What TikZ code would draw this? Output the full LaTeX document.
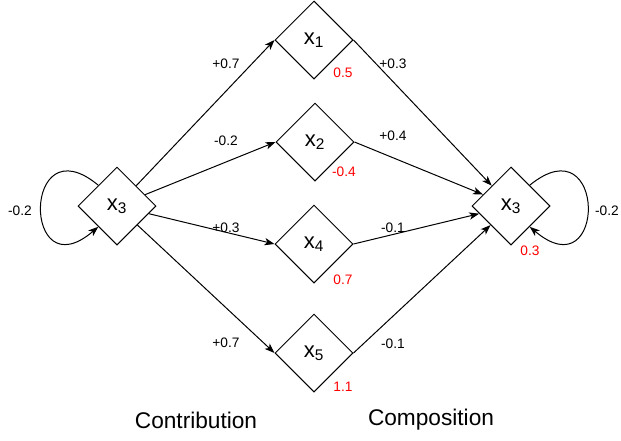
\documentclass[tikz,border=0pt]{standalone}
\usepackage{fontspec}
\setmainfont{Liberation Sans}
\usetikzlibrary{shapes.geometric,arrows.meta}
\newcommand{\pxUnit}[0]{0.75pt}

\begin{document}
\begin{tikzpicture}[x=\pxUnit, y=-\pxUnit]
  \tikzset{var/.style={diamond, draw, line width=0.75pt, inner sep=0pt,
      minimum width=58.5pt, minimum height=58.5pt,
      font=\fontsize{16.5}{18}\selectfont},
    weight/.style={font=\fontsize{10.3}{12}\selectfont},
    value/.style={weight, text=red},
    caption/.style={font=\fontsize{17}{20}\selectfont},
    link/.style={-{Stealth[length=7.5pt,width=5.5pt,inset=2pt]}, line width=0.75pt}}
  \useasboundingbox (0,0) rectangle (621,440);
  % variables
  \node[var] (src) at (117,206) {x\textsubscript{3}};
  \node[var] (x1) at (314,40) {x\textsubscript{1}};
  \node[var] (x2) at (315,142) {x\textsubscript{2}};
  \node[var] (x4) at (314,244) {x\textsubscript{4}};
  \node[var] (x5) at (314,353) {x\textsubscript{5}};
  \node[var] (dst) at (511,206) {x\textsubscript{3}};
  % contribution
  \draw[link] (src) -- (x1.west);
  \draw[link] (src) -- (x2.west);
  \draw[link] (src) -- (x4.west);
  \draw[link] (src) -- (x5.west);
  % composition
  \draw[link] (x1.east) -- (dst);
  \draw[link] (x2.east) -- (dst);
  \draw[link] (x4.east) -- (dst);
  \draw[link] (x5.east) -- (dst);
  % self loops
  \draw[link] (src.132) .. controls (22,122) and (22,292) .. (src.228);
  \draw[link] (dst.48) .. controls (607,122) and (607,292) .. (dst.312);
  % weights
  \node[weight] (w1) at (226,64) {+0.7};
  \node[weight] (w2) at (226,141) {-0.2};
  \node[weight] (w4) at (226,228) {+0.3};
  \node[weight] (w5) at (226,343) {+0.7};
  \node[weight] (v1) at (393,64) {+0.3};
  \node[weight] (v2) at (393,136) {+0.4};
  \node[weight] (v4) at (393,228) {-0.1};
  \node[weight] (v5) at (393,344) {-0.1};
  \node[weight] (wsrc) at (20,211) {-0.2};
  \node[weight] (wdst) at (607,211) {-0.2};
  % values
  \node[value] (r1) at (343,73) {0.5};
  \node[value] (r2) at (344,172) {-0.4};
  \node[value] (r4) at (343,280) {0.7};
  \node[value] (r5) at (343,387) {1.1};
  \node[value] (rdst) at (530,251) {0.3};
  % captions
  \node[caption] (contrib) at (196,420) {Contribution};
  \node[caption] (compos) at (431,420) {Composition};
\end{tikzpicture}
\end{document}
